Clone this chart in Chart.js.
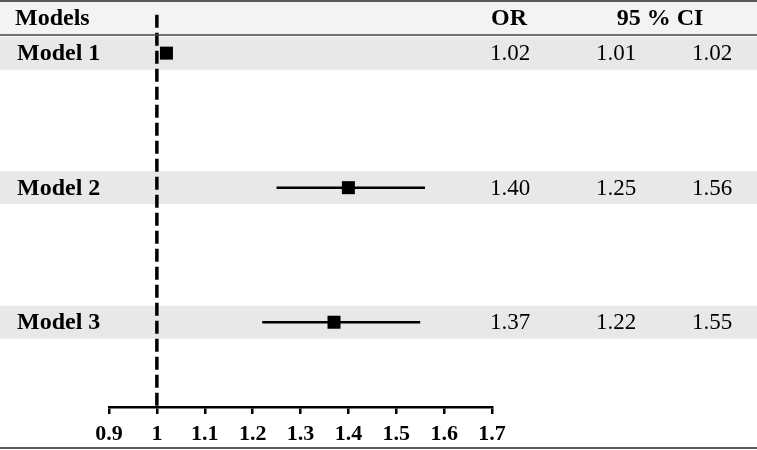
<!DOCTYPE html>
<html>
<head>
<meta charset="utf-8">
<script src="https://cdn.jsdelivr.net/npm/chart.js@4/dist/chart.umd.min.js"></script>
<style>
  html, body { margin: 0; padding: 0; background: #fff; }
  #wrap { width: 757px; height: 450px; }
</style>
</head>
<body>
<div id="wrap"><canvas id="forest"></canvas></div>
<script>
// data
var models = ["Model 1", "Model 2", "Model 3"];
var orValues = [1.02, 1.40, 1.37];
var ciLow = [1.01, 1.25, 1.22];
var ciHigh = [1.02, 1.56, 1.55];
var tickValues = [0.9, 1, 1.1, 1.2, 1.3, 1.4, 1.5, 1.6, 1.7];
var tickLabels = ["0.9", "1", "1.1", "1.2", "1.3", "1.4", "1.5", "1.6", "1.7"];
var refValue = 1;

// row positions on the y scale (top row highest)
var rowY = [3, 2, 1];
var headerY = 3.26;
var yMin = 0.37, yMax = 3.38;

var serif = "'Liberation Serif', 'Times New Roman', serif";

var datasets = [];
// reference dashed line at OR = 1
datasets.push({
    type: 'line',
    data: [{x: refValue, y: yMin + 0.01}, {x: refValue, y: 3.30}],
    borderColor: "#000",
    borderWidth: 3.5,
    borderDash: [13, 5],
    pointRadius: 0
});
// CI whiskers
for (var i = 0; i < models.length; i++) {
    datasets.push({
        type: 'line',
        data: [{x: ciLow[i], y: rowY[i]}, {x: ciHigh[i], y: rowY[i]}],
        borderColor: "#000",
        borderWidth: 2.5,
        pointRadius: 0
    });
}
// OR squares
datasets.push({
    type: 'scatter',
    data: orValues.map(function (v, i) { return {x: v, y: rowY[i]}; }),
    pointStyle: 'rect',
    pointRadius: 9.2,
    backgroundColor: "#000",
    borderColor: "#000",
    borderWidth: 0
});

var tablePlugin = {
    id: 'table',
    beforeDraw: function (chart) {
        var ctx = chart.ctx, y = chart.scales.y, w = chart.width;
        ctx.save();
        ctx.fillStyle = "#fff";
        ctx.fillRect(0, 0, w, chart.height);
        // header band
        ctx.fillStyle = "#f3f3f3";
        ctx.fillRect(0, 2, w, 33);
        // model bands
        ctx.fillStyle = "#e8e8e8";
        for (var i = 0; i < models.length; i++) {
            var py = y.getPixelForValue(rowY[i]);
            ctx.fillRect(0, py - 16.5, w, 33);
        }
        ctx.restore();
    },
    afterDraw: function (chart) {
        var ctx = chart.ctx, y = chart.scales.y, w = chart.width;
        ctx.save();
        // borders
        ctx.strokeStyle = "#5a5a5a";
        ctx.lineWidth = 2;
        ctx.beginPath(); ctx.moveTo(0, 1); ctx.lineTo(w, 1); ctx.stroke();
        ctx.beginPath(); ctx.moveTo(0, 448); ctx.lineTo(w, 448); ctx.stroke();
        ctx.strokeStyle = "#444";
        ctx.lineWidth = 1.5;
        ctx.beginPath(); ctx.moveTo(0, 35); ctx.lineTo(w, 35); ctx.stroke();

        ctx.fillStyle = "#000";
        ctx.textBaseline = "middle";
        var hy = y.getPixelForValue(headerY) + 1;
        ctx.font = "bold 24px " + serif;
        ctx.textAlign = "left";
        ctx.fillText("Models", 15, hy);
        ctx.textAlign = "center";
        ctx.fillText("OR", 509, hy);
        ctx.fillText("95 % CI", 660, hy);

        for (var i = 0; i < models.length; i++) {
            var py = y.getPixelForValue(rowY[i]) + 1;
            ctx.font = "bold 24px " + serif;
            ctx.textAlign = "left";
            ctx.fillText(models[i], 17, py);
            ctx.font = "23px " + serif;
            ctx.textAlign = "center";
            ctx.fillText(orValues[i].toFixed(2), 510, py);
            ctx.fillText(ciLow[i].toFixed(2), 616, py);
            ctx.fillText(ciHigh[i].toFixed(2), 712, py);
        }
        ctx.restore();
    }
};

new Chart(document.getElementById("forest"), {
    data: { datasets: datasets },
    options: {
        responsive: true,
        maintainAspectRatio: false,
        animation: false,
        layout: { autoPadding: false, padding: { left: 109, right: 265, top: 2, bottom: 0 } },
        plugins: { legend: { display: false }, tooltip: { enabled: false } },
        scales: {
            x: {
                type: 'linear',
                min: 0.9,
                max: 1.7,
                afterBuildTicks: function (scale) {
                    scale.ticks = tickValues.map(function (v) { return {value: v}; });
                },
                afterFit: function (scale) { scale.height = 43; },
                ticks: {
                    color: "#000",
                    padding: 7,
                    font: { family: serif, size: 22, weight: 'bold' },
                    callback: function (value, index) { return tickLabels[index]; }
                },
                grid: {
                    drawOnChartArea: false,
                    drawTicks: true,
                    tickLength: 7,
                    color: "#000",
                    lineWidth: 2.5
                },
                border: { display: true, color: "#000", width: 2.5 }
            },
            y: {
                type: 'linear',
                display: false,
                min: yMin,
                max: yMax
            }
        }
    },
    plugins: [tablePlugin]
});
</script>
</body>
</html>
